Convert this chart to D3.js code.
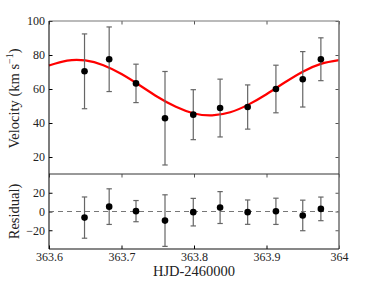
<!DOCTYPE html>
<html>
<head>
<meta charset="utf-8">
<script src="https://cdn.jsdelivr.net/npm/d3@7"></script>
<style>
  body { margin: 0; background: #fff; }
  svg text { font-family: "Liberation Serif", "Times New Roman", serif; fill: #222; }
</style>
</head>
<body>
<div id="chart"></div>
<script>
// observation times (HJD - 2460000)
const times = [363.649, 363.683, 363.720, 363.760, 363.799, 363.836, 363.874, 363.913, 363.950, 363.975];
// radial velocities and errors (km/s)
const velocities = [70.4, 77.5, 63.3, 42.8, 44.9, 48.8, 49.4, 60.0, 65.7, 77.5];
const velErrors = [22, 19, 11.3, 27.5, 14.7, 17, 13, 14, 16.3, 12.6];
// residuals and errors
const residuals = [-6.5, 5.2, 0.4, -9.7, -0.7, 4.2, -0.7, 0.2, -4.2, 2.8];
const resErrors = [22, 19, 11.3, 27.5, 14.7, 17, 13, 14, 16.3, 12.6];
// model curve
const curveTimes = [363.600, 363.625, 363.650, 363.675, 363.700, 363.725, 363.750, 363.775, 363.800,
                    363.825, 363.850, 363.875, 363.900, 363.925, 363.950, 363.975, 364.000];
const curveVel = [73.8, 76.7, 76.8, 74.0, 68.8, 62.2, 55.3, 49.5, 45.6,
                  44.5, 46.3, 50.8, 56.9, 63.8, 70.2, 74.8, 77.0];
// ticks
const xTicks = [363.6, 363.7, 363.8, 363.9, 364];
const velTicks = [20, 40, 60, 80, 100];
const resTicks = [-20, 0, 20];

const W = 374, H = 281;
const pLeft = 49, pRight = 339, pTop = 21, pMid = 174, pBottom = 249;
const serif = "Liberation Serif, Times New Roman, serif";

const svg = d3.select("#chart").append("svg")
    .attr("width", W)
    .attr("height", H);

const x = d3.scaleLinear().domain([363.6, 364]).range([pLeft, pRight]);
const yV = d3.scaleLinear().domain([10, 100]).range([pMid, pTop]);
const yR = d3.scaleLinear().domain([-40, 40]).range([pBottom, pMid]);

const tickLen = 3.5;

function styleAxis(g) {
  g.attr("font-family", serif).attr("font-size", 12);
  g.select(".domain").remove();
  g.selectAll("text").attr("fill", "#222");
}

// x axis at the bottom (ticks inward)
svg.append("g")
    .attr("transform", `translate(0,${pBottom})`)
    .call(d3.axisBottom(x).tickValues(xTicks).tickSize(-tickLen).tickPadding(3)
      .tickFormat(d => d === 364 ? "364" : d3.format(".1f")(d)))
    .call(styleAxis);

// top ticks of each panel
[pTop, pMid].forEach(yy => {
  svg.append("g")
    .attr("transform", `translate(0,${yy})`)
    .call(d3.axisTop(x).tickValues(xTicks).tickSize(-tickLen).tickFormat(""))
    .call(styleAxis)
    .call(g => g.selectAll("line").attr("stroke", "#555"));
});

// velocity axis
svg.append("g")
    .attr("transform", `translate(${pLeft},0)`)
    .call(d3.axisLeft(yV).tickValues(velTicks).tickSize(-tickLen).tickPadding(4))
    .call(styleAxis);
svg.append("g")
    .attr("transform", `translate(${pRight},0)`)
    .call(d3.axisRight(yV).tickValues(velTicks).tickSize(-tickLen).tickFormat(""))
    .call(styleAxis)
    .call(g => g.selectAll("line").attr("stroke", "#555"));

// residual axis
svg.append("g")
    .attr("transform", `translate(${pLeft},0)`)
    .call(d3.axisLeft(yR).tickValues(resTicks).tickSize(-tickLen).tickPadding(4)
      .tickFormat(d => d < 0 ? "\u2212" + Math.abs(d) : d))
    .call(styleAxis);
svg.append("g")
    .attr("transform", `translate(${pRight},0)`)
    .call(d3.axisRight(yR).tickValues(resTicks).tickSize(-tickLen).tickFormat(""))
    .call(styleAxis)
    .call(g => g.selectAll("line").attr("stroke", "#555"));

// zero line
svg.append("line")
    .attr("x1", pLeft).attr("x2", pRight)
    .attr("y1", yR(0)).attr("y2", yR(0))
    .attr("stroke", "#777")
    .attr("stroke-width", 1.1)
    .attr("stroke-dasharray", "5,4");

// model curve
const line = d3.line()
    .x((d, i) => x(curveTimes[i]))
    .y(d => yV(d))
    .curve(d3.curveNatural);
svg.append("path")
    .attr("d", line(curveVel))
    .attr("fill", "none")
    .attr("stroke", "#ff0000")
    .attr("stroke-width", 2.2);

// error bars helper
function drawPoints(vals, errs, y) {
  const g = svg.append("g");
  const capW = 2.7;
  vals.forEach((v, i) => {
    const cx = x(times[i]);
    const y1 = y(v + errs[i]), y2 = y(v - errs[i]);
    g.append("line").attr("x1", cx).attr("x2", cx).attr("y1", y1).attr("y2", y2)
      .attr("stroke", "#666").attr("stroke-width", 1.2);
    [y1, y2].forEach(yy => {
      g.append("line").attr("x1", cx - capW).attr("x2", cx + capW).attr("y1", yy).attr("y2", yy)
        .attr("stroke", "#666").attr("stroke-width", 1.2);
    });
  });
  g.selectAll("circle")
    .data(vals)
    .join("circle")
      .attr("cx", (d, i) => x(times[i]))
      .attr("cy", d => y(d))
      .attr("r", 3.3)
      .attr("fill", "#000");
}
drawPoints(velocities, velErrors, yV);
drawPoints(residuals, resErrors, yR);

// frame
svg.append("line").attr("x1", pLeft).attr("x2", pRight).attr("y1", pTop).attr("y2", pTop)
    .attr("stroke", "#777").attr("stroke-width", 1.2);
svg.append("line").attr("x1", pRight).attr("x2", pRight).attr("y1", pTop).attr("y2", pBottom)
    .attr("stroke", "#777").attr("stroke-width", 1.6);
svg.append("line").attr("x1", pLeft).attr("x2", pRight).attr("y1", pMid).attr("y2", pMid)
    .attr("stroke", "#333").attr("stroke-width", 1);
svg.append("line").attr("x1", pLeft).attr("x2", pLeft).attr("y1", pTop).attr("y2", pBottom)
    .attr("stroke", "#111").attr("stroke-width", 1.1);
svg.append("line").attr("x1", pLeft).attr("x2", pRight).attr("y1", pBottom).attr("y2", pBottom)
    .attr("stroke", "#111").attr("stroke-width", 1.1);

// axis labels
const vLab = svg.append("text")
    .attr("transform", `translate(19,${(pTop + pMid) / 2 + 1}) rotate(-90)`)
    .attr("text-anchor", "middle")
    .attr("font-family", serif)
    .attr("font-size", 14.5);
vLab.append("tspan").text("Velocity (km s");
vLab.append("tspan").attr("font-size", 10).attr("dy", -6).text("\u22121");
vLab.append("tspan").attr("dy", 6).text(")");

svg.append("text")
    .attr("transform", `translate(19,${(pMid + pBottom) / 2}) rotate(-90)`)
    .attr("text-anchor", "middle")
    .attr("font-family", serif)
    .attr("font-size", 14.5)
    .text("Residual)");

svg.append("text")
    .attr("x", (pLeft + pRight) / 2)
    .attr("y", 276)
    .attr("text-anchor", "middle")
    .attr("font-family", serif)
    .attr("font-size", 14.5)
    .text("HJD-2460000");
</script>
</body>
</html>
